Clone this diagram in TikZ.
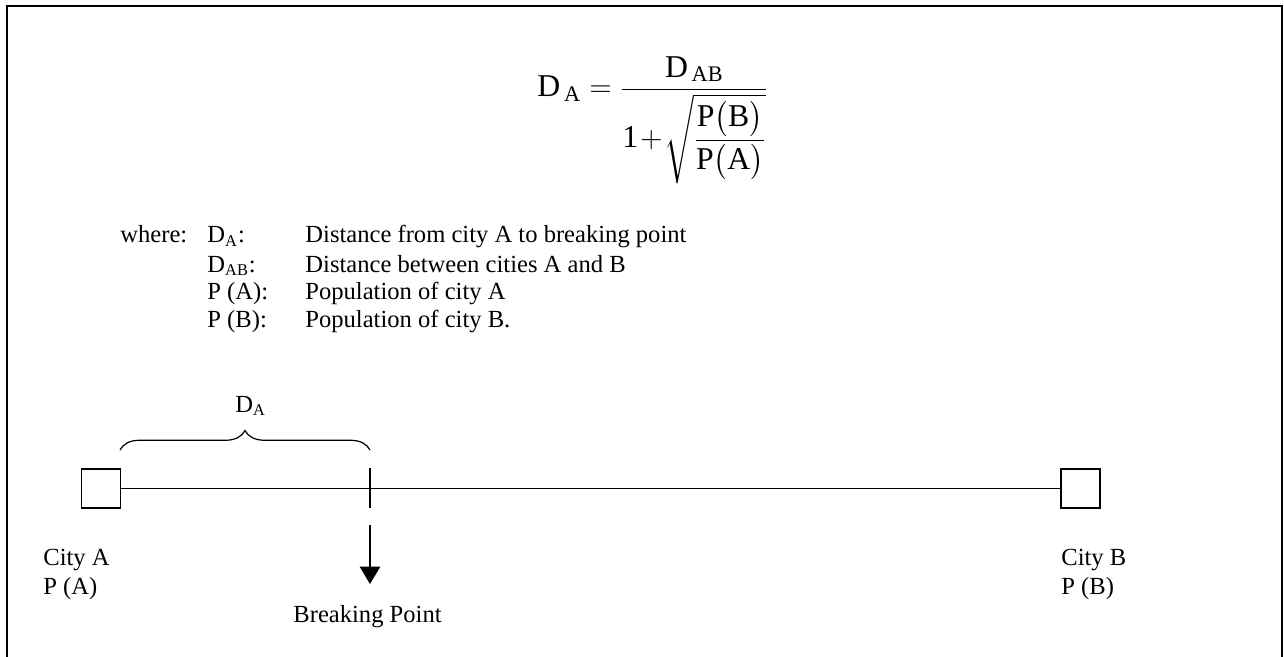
\documentclass[tikz,border=0pt]{standalone}
\usepackage{amsmath}
\usepackage{fontspec}
\setmainfont{Liberation Serif}
\usetikzlibrary{arrows.meta, positioning, decorations.pathreplacing}

\begin{document}
\begin{tikzpicture}[
    x=0.488pt, y=-0.488pt,
    >={Triangle[length=8.5pt, width=10pt]},
    txt/.style={font=\fontsize{12}{14}\selectfont, inner sep=0pt, anchor=base west},
    citybox/.style={draw, line width=0.75pt, minimum size=19pt, inner sep=0pt},
]
\useasboundingbox (0,0) rectangle (1284,657);
% === Frame, open at the bottom ===
\draw[line width=1pt] (7,657) -- (7,6) -- (1282,6) -- (1282,657);
% === Formula ===
\node[inner sep=0pt, anchor=base west, font=\fontsize{15.5}{18}\selectfont] (formula) at (537,97)
    {$\displaystyle \text{D}_{\,\text{A}} = \frac{\text{D}_{\,\text{AB}}}{\text{1}\!+\!\sqrt{\dfrac{\text{P}\big(\text{B}\big)}{\text{P}\big(\text{A}\big)}}}$};
% === Legend ===
\node[txt] (where) at (120,243) {where:};
\foreach \y/\sym/\desc [count=\i] in {
    243/{D$_\text{A}$:}/{Distance from city A to breaking point},
    272/{D$_\text{AB}$:}/{Distance between cities A and B},
    300/{P (A):}/{Population of city A},
    328/{P (B):}/{Population of city B.}} {
    \node[txt] (sym\i) at (207,\y) {\sym};
    \node[txt] (desc\i) at (305,\y) {\desc};
}
% === Cities and the line between them ===
\node[citybox] (cityA) at (101,488.5) {};
\node[citybox] (cityB) at (1080.5,488.5) {};
\draw[line width=0.5pt] (cityA) -- (cityB);
\node[txt] (cityAname) at (43,565) {City A};
\node[txt] (cityApop) at (43,594) {P (A)};
\node[txt] (cityBname) at (1061,565) {City B};
\node[txt] (cityBpop) at (1061,594) {P (B)};
% === Breaking point ===
\coordinate (bptop) at (370,468);
\coordinate (bpbot) at (370,508);
\coordinate (arrtop) at (370,525);
\coordinate (arrtip) at (370,584);
\draw[line width=0.75pt] (bptop) -- (bpbot);
\draw[->, line width=0.75pt] (arrtop) -- (arrtip);
\node[txt] (bplabel) at (293,622) {Breaking Point};
% === Brace over D_A ===
\coordinate (braceL) at (120,450);
\coordinate (braceR) at (370,450);
\draw[line width=0.6pt, decorate, decoration={brace, amplitude=9.5pt}] (braceL) -- (braceR);
\node[txt] (dalabel) at (235,412) {D$_\text{A}$};
\end{tikzpicture}
\end{document}
